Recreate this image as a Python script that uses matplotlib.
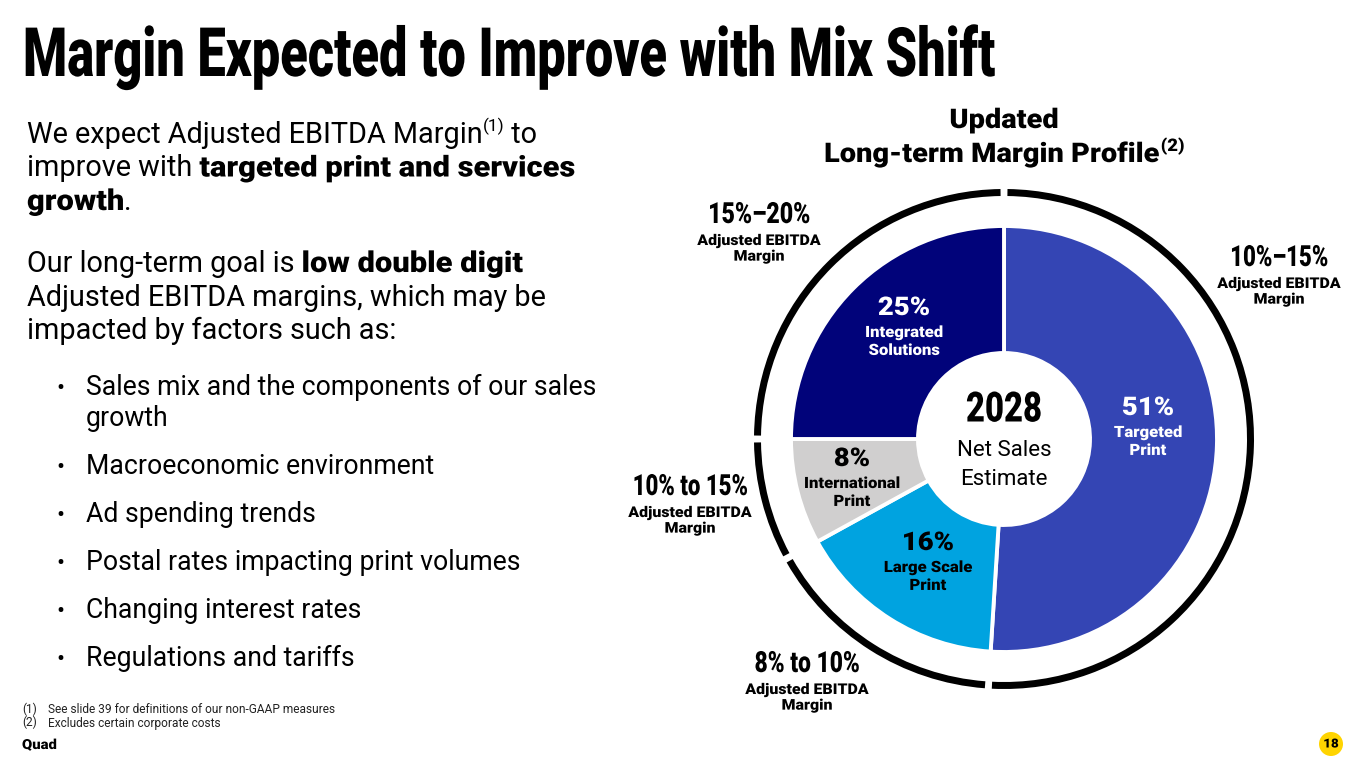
import matplotlib
matplotlib.use('Agg')
import matplotlib.pyplot as plt
from matplotlib import patheffects
from matplotlib.patches import Wedge, Circle
from matplotlib.transforms import Affine2D

# ---------------- data ----------------
title = 'Margin Expected to Improve with Mix Shift'
chart_title = ['Updated', 'Long-term Margin Profile', '(2)']
segments = ['Targeted\nPrint', 'Large Scale\nPrint', 'International\nPrint', 'Integrated\nSolutions']
shares = [51, 16, 8, 25]
margins = ['10%–15%', '8% to 10%', '10% to 15%', '15%–20%']
margin_note = 'Adjusted EBITDA\nMargin'
center_year = '2028'
center_note = 'Net Sales\nEstimate'

para1 = [
    [('We expect Adjusted EBITDA Margin', 'normal'), ('(1)', 'sup'), (' to', 'normal')],
    [('improve with ', 'normal'), ('targeted print and services', 'black')],
    [('growth', 'black'), ('.', 'normal')],
]
para2 = [
    [('Our long-term goal is ', 'normal'), ('low double digit', 'black')],
    [('Adjusted EBITDA margins, which may be', 'normal')],
    [('impacted by factors such as:', 'normal')],
]
bullets = [['Sales mix and the components of our sales', 'growth'],
           ['Macroeconomic environment'],
           ['Ad spending trends'],
           ['Postal rates impacting print volumes'],
           ['Changing interest rates'],
           ['Regulations and tariffs']]
footnotes = [('(1)', 'See slide 39 for definitions of our non-GAAP measures'),
             ('(2)', 'Excludes certain corporate costs')]
brand = 'Quad'
page = '18'

# ---------------- layout / style ----------------
W, H = 1365, 768
CX, CY = 1004, 439
R_OUT, R_IN = 213, 86
RING_R, RING_W, RING_GAP = 250, 7, 0.8
seg_colors = ['#3445b4', '#00a3e0', '#d0cfcf', '#01037a']
seg_ink = ['white', 'black', 'black', 'white']
seg_xy = [(1148, 408), (928, 543), (852, 459), (904, 308)]
margin_xy = [(1279, 258), (807, 664), (690, 487), (759, 215)]
margin_w = [98, 105, 115, 102]
BODY = ['Roboto', 'DejaVu Sans']
WIDE = 1.07   # the bold face of the slide is a bit wider than Roboto Bold


class Squeeze(patheffects.AbstractPathEffect):
    # scale the glyphs horizontally (condensed or extended face)
    def __init__(self, sx, anchor='center'):
        super().__init__()
        self.sx = sx
        self.anchor = anchor

    def draw_path(self, renderer, gc, tpath, affine, rgbFace=None):
        bb = tpath.get_extents(affine)
        x0 = bb.x0 if self.anchor == 'left' else (bb.x0 + bb.x1) / 2
        t = affine + Affine2D().translate(-x0, 0).scale(self.sx, 1).translate(x0, 0)
        renderer.draw_path(gc, tpath, t, rgbFace)


fig = plt.figure(figsize=(W / 100, H / 100), dpi=100)
ax = fig.add_axes([0, 0, 1, 1])
r = fig.canvas.get_renderer()

# donut (y axis is flipped, so angles run the other way)
ax.pie(shares, colors=seg_colors, radius=R_OUT, center=(CX, CY),
       startangle=-90, counterclock=True,
       wedgeprops=dict(width=R_OUT - R_IN, edgecolor='white', linewidth=2.8))
ax.set_xlim(0, W)
ax.set_ylim(H, 0)
ax.axis('off')

# outer black arcs, one per segment
total = sum(shares)
a0 = -90
for s in shares:
    a1 = a0 + 360 * s / total
    ax.add_patch(Wedge((CX, CY), RING_R, a0 + RING_GAP, a1 - RING_GAP, width=RING_W,
                       color='black', lw=0))
    a0 = a1


def condensed(x, y, s, size, target_w, ha='center', va='center'):
    t = ax.text(x, y, s, fontsize=size, fontweight='black', family=BODY,
                ha=ha, va=va, color='black')
    w = t.get_window_extent(r).width
    t.set_path_effects([Squeeze(target_w / w, 'left' if ha == 'left' else 'center')])
    return t


def heavy(x, y, s, size, **kw):
    anchor = 'left' if kw.get('ha', 'left') == 'left' else 'center'
    return ax.text(x, y, s, fontsize=size, fontweight='black', family=BODY,
                   path_effects=[Squeeze(WIDE, anchor)], **kw)


def text_w(s, size, weight):
    t = ax.text(0, 0, s + '|', fontsize=size, fontweight=weight, family=BODY)
    w1 = t.get_window_extent(r).width
    t.set_text('|')
    w2 = t.get_window_extent(r).width
    t.remove()
    return w1 - w2


def rich_line(x, y, runs, size):
    for s, kind in runs:
        if kind == 'sup':
            ax.text(x, y - size * 0.55, s, fontsize=size * 0.6, family=BODY,
                    va='baseline', color='black')
            x += text_w(s, size * 0.6, 'normal')
        elif kind == 'black':
            heavy(x, y, s, size, va='baseline', color='black')
            x += text_w(s, size, kind) * WIDE
        else:
            ax.text(x, y, s, fontsize=size, family=BODY, va='baseline', color='black')
            x += text_w(s, size, kind)


# slide title
condensed(22, 76, title, 49, 971, ha='left', va='baseline')

# left text block
for i, line in enumerate(para1):
    rich_line(27, 143 + i * 33.5, line, 20.8)
for i, line in enumerate(para2):
    rich_line(27, 272 + i * 33.5, line, 20.8)

by = 395
for b in bullets:
    ax.text(56, by, '•', fontsize=17, family=BODY, va='baseline')
    for j, line in enumerate(b):
        ax.text(86, by + j * 31, line, fontsize=19.2, family=BODY, va='baseline')
    by += 48 + 31 * (len(b) - 1)

# chart heading
heavy(CX, 128, chart_title[0], 19.5, ha='center', va='baseline')
hw = text_w(chart_title[1], 19.5, 'black') * WIDE
sw = text_w(chart_title[2], 12.5, 'black') * WIDE
hx = CX - (hw + sw) / 2
heavy(hx, 162, chart_title[1], 19.5, va='baseline')
heavy(hx + hw + 1, 151, chart_title[2], 12.5, va='baseline')

# segment labels
for name, pct, (x, y), ink in zip(segments, shares, seg_xy, seg_ink):
    heavy(x, y, f'{pct}%', 18.5, ha='center', va='center', color=ink)
    heavy(x, y + 16, name, 11.2, ha='center', va='top', color=ink, linespacing=1.15)

# margin labels around the ring
for m, (x, y), tw in zip(margins, margin_xy, margin_w):
    condensed(x, y, m, 21, tw)
    heavy(x, y + 19, margin_note, 10.7, ha='center', va='top', linespacing=1.15)

# centre of donut
condensed(CX, 410, center_year, 30, 76)
ax.text(CX, 465, center_note, fontsize=16, family=BODY, ha='center', va='center',
        linespacing=1.45)

# footnotes and footer
for i, (k, s) in enumerate(footnotes):
    ax.text(22, 713 + i * 13.5, k, fontsize=8.6, family=BODY, va='baseline', color='#222222')
    ax.text(48, 713 + i * 13.5, s, fontsize=8.6, family=BODY, va='baseline', color='#222222')
heavy(22, 749, brand, 10, va='baseline')
ax.add_patch(Circle((1331, 744), 12, color='#ffd400', lw=0))
heavy(1331, 744, page, 9, ha='center', va='center')

fig.savefig('out.png', dpi=100, facecolor='white')
